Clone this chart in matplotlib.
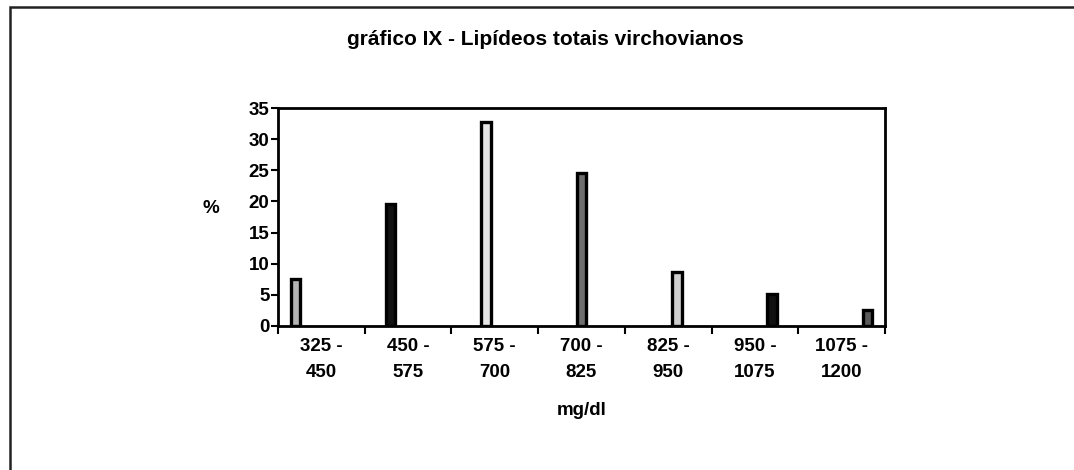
import numpy as np
import matplotlib.pyplot as plt
from matplotlib.patches import Rectangle

plt.rcParams['font.family'] = ['Liberation Sans', 'DejaVu Sans']

categories = ["325 -\n450", "450 -\n575", "575 -\n700", "700 -\n825",
              "825 -\n950", "950 -\n1075", "1075 -\n1200"]
percent = [7.5, 19.6, 32.8, 24.5, 8.7, 5.1, 2.6]
bar_colors = ["#b4b4b4", "#111111", "#e6e6e6", "#6e6e6e", "#cfcfcf", "#111111", "#5a5a5a"]

fig = plt.figure(figsize=(10.74, 4.7), dpi=100)
# scanned page frame (open at the right and bottom)
fig.patches.append(Rectangle((0.0093, -0.05), 1.05, 1.035, transform=fig.transFigure,
                             fill=False, edgecolor="#222222", linewidth=1.8))

ax = fig.add_axes([0.2588, 0.3064, 0.5652, 0.4638])

n = len(categories)
x = np.arange(n)
width = 0.11
step = 0.1
for i, (v, c) in enumerate(zip(percent, bar_colors)):
    offset = (i - (n - 1) / 2) * step
    ax.bar(x[i] + offset, v, width=width, color=c, edgecolor="black", linewidth=2.4)

ax.set_xlim(-0.5, n - 0.5)
ax.set_ylim(0, 35)
ax.set_yticks(range(0, 36, 5))
ax.set_xticks(x)
ax.set_xticklabels(categories, fontsize=13.5, fontweight="bold", linespacing=1.65)
ax.set_xticks(np.arange(n + 1) - 0.5, minor=True)
ax.tick_params(axis="x", which="major", length=0, pad=9)
ax.tick_params(axis="x", which="minor", length=6, width=1.5, direction="out")
ax.tick_params(axis="y", length=5, width=1.5, labelsize=13.5, pad=1)
for lab in ax.get_yticklabels():
    lab.set_fontweight("bold")

for s in ax.spines.values():
    s.set_linewidth(2)

ax.set_xlabel("mg/dl", fontsize=13.5, fontweight="bold", labelpad=15)
ax.set_ylabel("%", fontsize=13.5, fontweight="bold", rotation=0)
ax.yaxis.set_label_coords(-0.11, 0.5)

fig.text(0.508, 0.917, "gráfico IX - Lipídeos totais virchovianos",
         ha="center", va="center", fontsize=15, fontweight="bold")

fig.savefig("out.png", dpi=100)
